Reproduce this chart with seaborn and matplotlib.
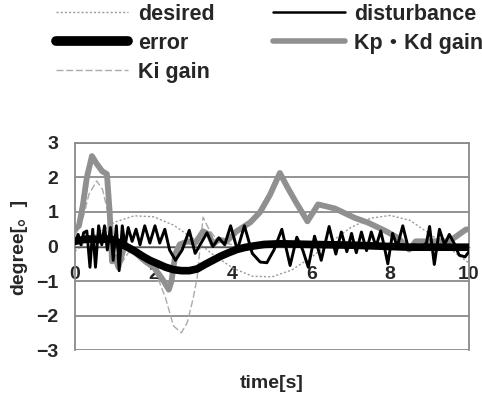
import matplotlib
matplotlib.use("Agg")
import matplotlib.pyplot as plt
import matplotlib.lines as mlines
import seaborn as sns

# ---------------- data ----------------
desired_t = [0, 0.5, 1, 1.5, 2, 2.5, 3, 3.5, 4, 4.5, 5, 5.5, 6, 6.5, 7, 7.5, 8, 8.5, 9, 9.5, 10]
desired_v = [-0.13, 0.31, 0.70, 0.89, 0.86, 0.62, 0.23, -0.23, -0.62, -0.86, -0.88, -0.68, -0.31,
             0.14, 0.55, 0.82, 0.90, 0.76, 0.37, -0.05, -0.48]

disturb_t = [0.0, 0.08, 0.15, 0.22, 0.3, 0.38, 0.45, 0.52, 0.6, 0.68, 0.75, 0.82, 0.9, 0.97, 1.05,
             1.12, 1.2, 1.27, 1.35, 1.45, 1.55, 1.65, 1.77, 1.9, 2.03, 2.15, 2.28, 2.4, 2.55, 2.72,
             2.9, 3.05, 3.2, 3.35, 3.5, 3.65, 3.8, 3.95, 4.12, 4.3, 4.5, 4.7, 4.87, 5.05, 5.25,
             5.46, 5.63, 5.78, 5.92, 6.08, 6.25, 6.45, 6.62, 6.76, 6.9, 7.02, 7.14, 7.27, 7.4,
             7.52, 7.64, 7.76, 7.85, 7.94, 8.06, 8.18, 8.32, 8.45, 8.6, 8.8, 8.92, 9.0, 9.12,
             9.25, 9.38, 9.5, 9.62, 9.75, 9.9, 10.0]
disturb_v = [0.1, 0.35, 0.05, 0.4, 0.45, -0.6, 0.5, -0.6, 0.6, 0.05, 0.6, -0.1, 0.55, -0.4, 0.6,
             -0.7, 0.6, 0.0, 0.55, 0.15, 0.5, 0.05, 0.6, 0.1, 0.6, 0.1, 0.5, -0.1, -0.4, -0.1,
             0.47, -0.2, 0.1, 0.4, 0.0, 0.25, 0.05, 0.6, -0.1, 0.6, -0.2, -0.45, -0.47, -0.1, 0.5,
             -0.55, 0.27, -0.1, -0.6, 0.3, -0.4, 0.58, -0.22, 0.42, -0.15, 0.38, -0.18, 0.42, -0.12,
             0.42, 0.0, 0.45, 0.0, -0.5, 0.38, 0.0, 0.6, 0.0, 0.05, 0.0, 0.1, 0.58, -0.52,
             0.5, 0.05, 0.35, 0.1, -0.25, -0.3, -0.15]

error_t = [0, 0.3, 0.6, 0.9, 1.1, 1.3, 1.5, 1.7, 1.9, 2.1, 2.3, 2.5, 2.7, 2.9, 3.1, 3.3, 3.5, 3.7,
           3.9, 4.1, 4.3, 4.5, 4.8, 5.2, 5.6, 6.0, 6.5, 7.0, 7.5, 8.0, 8.5, 9.0, 9.5, 10.0]
error_v = [0.15, 0.22, 0.2, 0.22, 0.12, 0.0, -0.12, -0.27, -0.4, -0.5, -0.6, -0.67, -0.7, -0.7,
           -0.65, -0.52, -0.4, -0.28, -0.18, -0.09, -0.03, 0.01, 0.06, 0.08, 0.07, 0.06, 0.05,
           0.04, 0.02, 0.0, -0.02, -0.02, -0.02, -0.02]

kp_t = [0, 0.1, 0.2, 0.3, 0.43, 0.55, 0.69, 0.81, 0.88, 0.94, 1.02, 1.1, 1.2, 1.27, 1.4, 1.55,
        1.78, 2.0, 2.13, 2.25, 2.38, 2.45, 2.55, 2.66, 2.87, 3.05, 3.25, 3.4, 3.5, 3.65, 3.85,
        4.1, 4.45, 4.7, 4.95, 5.2, 5.4, 5.6, 5.9, 6.17, 6.6, 7.1, 7.44, 7.9, 8.2, 8.48, 8.65,
        9.08, 9.5, 9.92, 10.0]
kp_v = [0.5, 0.6, 1.2, 2.0, 2.62, 2.4, 2.18, 2.1, 1.0, -0.43, -0.3, -0.6, -0.2, 0.07, -0.1, -0.2,
        -0.43, -0.6, -0.8, -1.0, -1.25, -1.0, -0.2, 0.06, 0.15, 0.1, 0.44, 0.35, 0.06, 0.2, 0.15,
        0.44, 0.7, 1.0, 1.5, 2.13, 1.7, 1.3, 0.73, 1.22, 1.1, 0.83, 0.69, 0.44, 0.25, -0.09, 0.15,
        0.15, 0.15, 0.49, 0.5]

ki_t = [0, 0.2, 0.35, 0.55, 0.7, 0.85, 1.0, 1.2, 1.4, 1.6, 1.9, 2.1, 2.3, 2.5, 2.7, 2.85, 3.0,
        3.1, 3.25, 3.4, 3.6, 3.8, 4.2, 5.0, 6.0, 7.0, 8.0, 9.0, 10.0]
ki_v = [0.3, 0.8, 1.5, 1.9, 1.65, 0.9, -0.3, -0.45, -0.1, -0.2, -0.5, -0.9, -1.5, -2.3, -2.5,
        -2.2, -1.5, -0.9, 0.85, 0.5, 0.2, 0.1, 0.0, 0.05, 0.05, 0.03, 0.0, 0.0, 0.0]

labels = ["desired", "disturbance", "error", "Kp\u30fbKd gain", "Ki gain"]
x_ticks = [0, 2, 4, 6, 8, 10]
y_ticks = [-3, -2, -1, 0, 1, 2, 3]
y_tick_labels = ["\u22123", "\u22122", "\u22121", "0", "1", "2", "3"]

# ---------------- drawing ----------------
sns.set_style("white")
plt.rcParams["font.family"] = ["Liberation Sans", "DejaVu Sans", "Noto Sans CJK JP"]
plt.rcParams["font.weight"] = "bold"

fig = plt.figure(figsize=(4.82, 3.96), dpi=100)
ax = fig.add_axes([0.1556, 0.116, 0.8174, 0.523])

sns.lineplot(x=desired_t, y=desired_v, ax=ax, color="#9a9a9a", linewidth=1.0,
             linestyle=(0, (1.5, 1.5)), label=labels[0], zorder=2)
sns.lineplot(x=ki_t, y=ki_v, ax=ax, color="#ababab", linewidth=1.0,
             linestyle=(0, (5, 2)), label=labels[4], zorder=3)
sns.lineplot(x=kp_t, y=kp_v, ax=ax, color="#909090", linewidth=4.2,
             label=labels[3], zorder=4, solid_joinstyle="round")
sns.lineplot(x=error_t, y=error_v, ax=ax, color="black", linewidth=5.5,
             label=labels[2], zorder=5, solid_capstyle="round")
sns.lineplot(x=disturb_t, y=disturb_v, ax=ax, color="black", linewidth=2.1,
             label=labels[1], zorder=6, solid_joinstyle="round")

ax.set_xlim(0, 10)
ax.set_ylim(-3, 3)
ax.set_xticks(x_ticks)
ax.set_yticks(y_ticks)
ax.set_yticklabels(y_tick_labels)
ax.yaxis.grid(True, color="#8a8a8a", linewidth=1.3)
ax.xaxis.grid(False)
ax.set_axisbelow(True)
for s in ["left", "right", "top"]:
    ax.spines[s].set_color("#8a8a8a")
    ax.spines[s].set_linewidth(1.3)
ax.spines["bottom"].set_position(("data", 0))
ax.spines["bottom"].set_color("#555555")
ax.spines["bottom"].set_linewidth(1.0)
ax.tick_params(axis="x", length=0, pad=14, labelsize=14)
ax.tick_params(axis="y", length=0, pad=12, labelsize=14)
for t in ax.get_xticklabels() + ax.get_yticklabels():
    t.set_fontweight("bold")
ax.set_xlabel("")
ax.set_ylabel("")

fig.text(272 / 482, 1 - 383 / 396, "time[s]", ha="center", va="center",
         fontsize=14, fontweight="bold")
fig.text(19 / 482, 1 - 247 / 396, "degree[\u3002]", ha="center", va="center",
         rotation=90, fontsize=14, fontweight="bold")

ax.get_legend().remove()
order = [labels[0], labels[2], labels[4], labels[1], labels[3]]
leg_handles = [
    mlines.Line2D([], [], color="#9a9a9a", linewidth=1.0, linestyle=(0, (1.5, 1.5))),
    mlines.Line2D([], [], color="black", linewidth=7, solid_capstyle="round"),
    mlines.Line2D([], [], color="#ababab", linewidth=1.0, linestyle=(0, (5, 2))),
    mlines.Line2D([], [], color="black", linewidth=1.8),
    mlines.Line2D([], [], color="#909090", linewidth=4.0),
]
fig.legend(leg_handles, order, loc="upper left", bbox_to_anchor=(56 / 482, 1 - 4 / 396),
           ncol=2, frameon=False, handlelength=3.35, handletextpad=0.45,
           columnspacing=2.7, labelspacing=0.37, borderpad=0, borderaxespad=0,
           prop={"weight": "bold", "size": 15.5})

fig.savefig("out.png", dpi=100)
